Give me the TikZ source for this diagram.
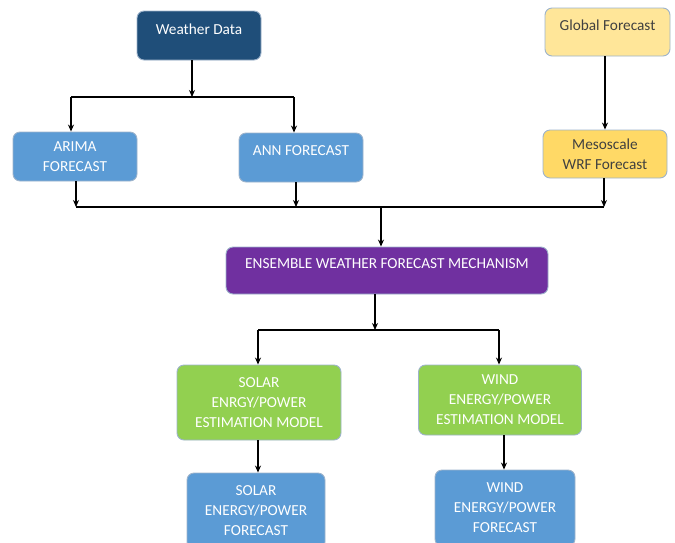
\documentclass[tikz,border=0pt]{standalone}
\usepackage{fontspec}
\setmainfont{Carlito}
\usetikzlibrary{arrows.meta}

\definecolor{wdblue}{HTML}{1F4E79}
\definecolor{fcblue}{HTML}{5B9BD5}
\definecolor{glyellow}{HTML}{FFE699}
\definecolor{meyellow}{HTML}{FFD966}
\definecolor{enpurple}{HTML}{7030A0}
\definecolor{mdgreen}{HTML}{92D050}
\definecolor{edgegray}{HTML}{9DB3CB}

\tikzset{
  box/.style={rectangle, rounded corners=7pt, draw=edgegray, line width=0.9pt,
    align=center, inner sep=0pt, text=white,
    font=\fontsize{15.3}{20}\selectfont},
  raised/.style={text depth=13pt},
  arr/.style={line width=1.1pt, -{Stealth[length=7pt,width=6pt]}},
  wire/.style={line width=1.1pt}
}

\begin{document}
\begin{tikzpicture}[x=1pt,y=-1pt]
  %%%%% START %%%%%
  \useasboundingbox (0,0) rectangle (675,542);
  \clip (0,0) rectangle (675,542);

  % top row
  \node[box, raised, fill=wdblue, minimum width=124pt, minimum height=49pt] (wd) at (199,35.5) {Weather Data};
  \node[box, raised, fill=glyellow, text=black!75, minimum width=125pt, minimum height=48pt] (gl) at (607.5,32) {Global Forecast};

  % forecasts
  \node[box, fill=fcblue, minimum width=124pt, minimum height=49pt] (arima) at (75,156.5) {ARIMA\\FORECAST};
  \node[box, raised, fill=fcblue, minimum width=124pt, minimum height=49pt] (ann) at (301,157.5) {ANN FORECAST};
  \node[box, fill=meyellow, text=black!75, minimum width=124pt, minimum height=48pt] (meso) at (605,154) {Mesoscale\\WRF Forecast};

  % ensemble
  \node[box, raised, fill=enpurple, minimum width=322pt, minimum height=47pt] (ens) at (387,270.5) {ENSEMBLE WEATHER FORECAST MECHANISM};

  % estimation models
  \node[box, fill=mdgreen, minimum width=164pt, minimum height=75pt] (solm) at (259,402.5) {SOLAR\\ENRGY/POWER\\ESTIMATION MODEL};
  \node[box, fill=mdgreen, minimum width=163pt, minimum height=70pt] (winm) at (500,400) {WIND\\ENERGY/POWER\\ESTIMATION MODEL};

  % power forecasts
  \node[box, fill=fcblue, minimum width=138pt, minimum height=76pt] (solf) at (256,511) {SOLAR\\ENERGY/POWER\\FORECAST};
  \node[box, fill=fcblue, minimum width=140pt, minimum height=76pt] (winf) at (505,508) {WIND\\ENERGY/POWER\\FORECAST};

  % weather data split
  \coordinate (jwd) at (192,97);
  \coordinate (jl) at (71,97);
  \coordinate (jr) at (294,97);
  \draw[arr] (wd.south -| jwd) -- (jwd);
  \draw[wire] (jl) -- (jr);
  \draw[arr] (jl) -- (jl |- arima.north);
  \draw[arr] (jr) -- (jr |- ann.north);
  \draw[arr] (gl.south -| meso.north) -- (meso.north);

  % merge into ensemble
  \coordinate (ma) at (76,207);
  \coordinate (mb) at (296,207);
  \coordinate (mc) at (604,207);
  \coordinate (md) at (381,207);
  \draw[arr] (arima.south -| ma) -- (ma);
  \draw[arr] (ann.south -| mb) -- (mb);
  \draw[arr] (meso.south -| mc) -- (mc);
  \draw[wire] (ma) -- (mc);
  \draw[arr] (md) -- (md |- ens.north);

  % split to models
  \coordinate (je) at (375,330);
  \coordinate (js) at (258,330);
  \coordinate (jw) at (499,330);
  \draw[arr] (ens.south -| je) -- (je);
  \draw[wire] (js) -- (jw);
  \draw[arr] (js) -- (js |- solm.north);
  \draw[arr] (jw) -- (jw |- winm.north);

  % models to power forecasts
  \draw[arr] (solm.south -| 258,0) -- (solf.north -| 258,0);
  \draw[arr] (winm.south -| 504,0) -- (winf.north -| 504,0);
  %%%%% END %%%%%
\end{tikzpicture}
\end{document}
